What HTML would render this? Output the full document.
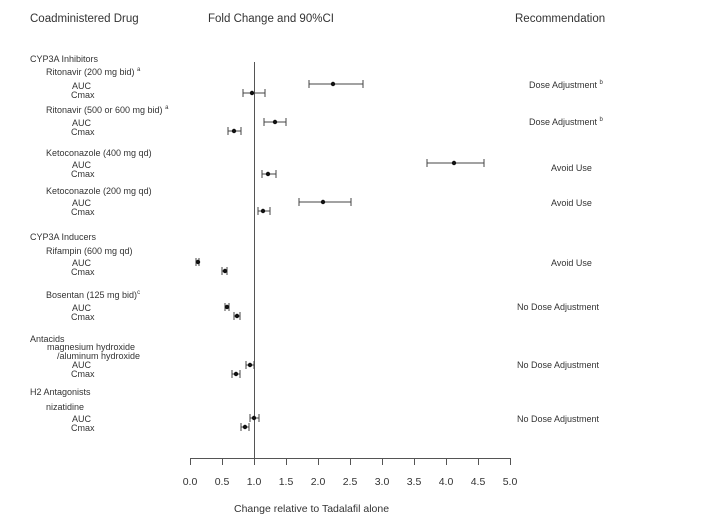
<!DOCTYPE html>
<html><head><style>
body{margin:0;background:#fff}
svg{display:block;font-family:"Liberation Sans",Arial,sans-serif;fill:#333}
</style></head><body>
<svg width="705" height="517" viewBox="0 0 705 517" xmlns="http://www.w3.org/2000/svg">
<g font-size="11.5">
<text x="30" y="22">Coadministered Drug</text>
<text x="208" y="22">Fold Change and 90%CI</text>
<text x="515" y="22">Recommendation</text>
</g>
<g font-size="9">
<text x="30" y="62">CYP3A Inhibitors</text>
<text x="46" y="75">Ritonavir (200 mg bid) <tspan font-size="6" dy="-4">a</tspan></text>
<text x="72" y="89">AUC</text><text x="71" y="98">Cmax</text>
<text x="46" y="113">Ritonavir (500 or 600  mg bid) <tspan font-size="6" dy="-4">a</tspan></text>
<text x="72" y="126">AUC</text><text x="71" y="135">Cmax</text>
<text x="46" y="156">Ketoconazole (400 mg qd)</text>
<text x="72" y="168">AUC</text><text x="71" y="177">Cmax</text>
<text x="46" y="194">Ketoconazole (200 mg qd)</text>
<text x="72" y="206">AUC</text><text x="71" y="215">Cmax</text>
<text x="30" y="240">CYP3A Inducers</text>
<text x="46" y="254">Rifampin (600 mg qd)</text>
<text x="72" y="266">AUC</text><text x="71" y="275">Cmax</text>
<text x="46" y="298">Bosentan (125 mg bid)<tspan font-size="6" dy="-4">c</tspan></text>
<text x="72" y="311">AUC</text><text x="71" y="320">Cmax</text>
<text x="30" y="342">Antacids</text>
<text x="47" y="350">magnesium hydroxide</text>
<text x="57" y="359">/aluminum hydroxide</text>
<text x="72" y="368">AUC</text><text x="71" y="377">Cmax</text>
<text x="30" y="395">H2 Antagonists</text>
<text x="46" y="410">nizatidine</text>
<text x="72" y="422">AUC</text><text x="71" y="431">Cmax</text>
<text x="529" y="88">Dose Adjustment <tspan font-size="6" dy="-4">b</tspan></text>
<text x="529" y="125">Dose Adjustment <tspan font-size="6" dy="-4">b</tspan></text>
<text x="551" y="171">Avoid Use</text>
<text x="551" y="206">Avoid Use</text>
<text x="551" y="266">Avoid Use</text>
<text x="517" y="310">No Dose Adjustment</text>
<text x="517" y="368">No Dose Adjustment</text>
<text x="517" y="422">No Dose Adjustment</text>
</g>
<g stroke="#555" stroke-width="1" fill="none">
<line x1="254.5" y1="62" x2="254.5" y2="458"/>
<line x1="190" y1="458.5" x2="510" y2="458.5"/>
<path d="M190.5 458V465M222.5 458V465M254.5 458V465M286.5 458V465M318.5 458V465M350.5 458V465M382.5 458V465M414.5 458V465M446.5 458V465M478.5 458V465M510.5 458V465"/>
</g>
<g font-size="10.5">
<text x="190" y="485" text-anchor="middle">0.0</text><text x="222" y="485" text-anchor="middle">0.5</text>
<text x="254" y="485" text-anchor="middle">1.0</text><text x="286" y="485" text-anchor="middle">1.5</text>
<text x="318" y="485" text-anchor="middle">2.0</text><text x="350" y="485" text-anchor="middle">2.5</text>
<text x="382" y="485" text-anchor="middle">3.0</text><text x="414" y="485" text-anchor="middle">3.5</text>
<text x="446" y="485" text-anchor="middle">4.0</text><text x="478" y="485" text-anchor="middle">4.5</text>
<text x="510" y="485" text-anchor="middle">5.0</text>
<text x="234" y="512">Change relative to Tadalafil alone</text>
</g>
<g stroke="#444" stroke-width="1" fill="#111">
<path fill="none" d="
M309 84H363M309 80V88M363 80V88
M243 93H265M243 89V97M265 89V97
M264 122H286M264 118V126M286 118V126
M228 131H241M228 127V135M241 127V135
M427 163H484M427 159V167M484 159V167
M262 174H276M262 170V178M276 170V178
M299 202H351M299 198V206M351 198V206
M258 211H270M258 207V215M270 207V215
M196 262H199M196 258V266M199 258V266
M222 271H227M222 267V275M227 267V275
M225 307H229M225 303V311M229 303V311
M234 316H240M234 312V320M240 312V320
M246 365H254M246 361V369M254 361V369
M232 374H240M232 370V378M240 370V378
M250 418H259M250 414V422M259 414V422
M241 427H249M241 423V431M249 423V431"/>
<g stroke="none">
<circle cx="333" cy="84" r="2.2"/><circle cx="252" cy="93" r="2.2"/>
<circle cx="275" cy="122" r="2.2"/><circle cx="234" cy="131" r="2.2"/>
<circle cx="454" cy="163" r="2.2"/><circle cx="268" cy="174" r="2.2"/>
<circle cx="323" cy="202" r="2.2"/><circle cx="263" cy="211" r="2.2"/>
<circle cx="198" cy="262" r="2.2"/><circle cx="225" cy="271" r="2.2"/>
<circle cx="227" cy="307" r="2.2"/><circle cx="237" cy="316" r="2.2"/>
<circle cx="250" cy="365" r="2.2"/><circle cx="236" cy="374" r="2.2"/>
<circle cx="254" cy="418" r="2.2"/><circle cx="245" cy="427" r="2.2"/>
</g>
</g>
</svg>
</body></html>
